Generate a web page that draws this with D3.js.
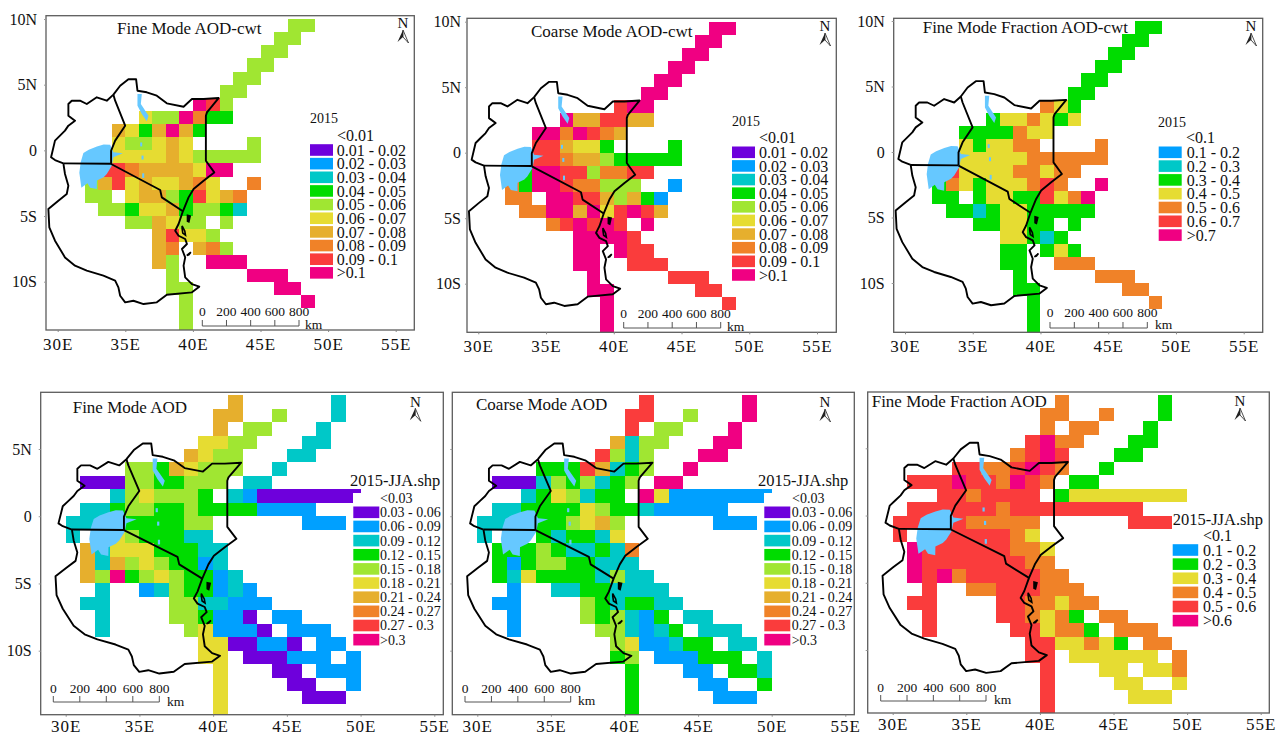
<!DOCTYPE html>
<html>
<head>
<meta charset="utf-8">
<script src="https://cdn.jsdelivr.net/npm/d3@7"></script>
<style>
  html, body { margin: 0; background: #fff; }
  text { font-family: "Liberation Serif", "Times New Roman", serif; fill: #111; }
</style>
</head>
<body>
<div id="chart"></div>
<script>
// one row = [top latitude of the cell, lon of the first cell, class code per degree east]
const fineCwt = [
  [10,47,"ll"],[9,46,"ll"],[8,45,"ll"],[7,44,"ll"],[6,43,"ll"],[5,42,"ll"],
  [4,40,"mrl"],[3,36,"yllmogg"],[2,34,"dygdmdg"],[1,34,"yllydy....l"],[0,34,"yyyydylllll"],
  [-1,33,"rroddddymm"],[-2,32,"ldrydyydoy..o"],[-3,32,"ll.yddlgrydo"],[-4,33,"llgyydgllgt"],
  [-5,35,"lldyll.l"],[-6,37,"dryyl"],[-7,37,"do.dol"],[-8,37,"dl..mmm"],[-9,38,"l.....mmm"],
  [-10,38,"ll......mm"],[-11,39,"l........m"],[-12,39,"l"],[-13,39,"l"]
];
const coarseCwt = [
  [10,47,"mm"],[9,46,"mm"],[8,45,"mm"],[7,44,"mm"],[6,43,"mm"],[5,42,"mm"],
  [4,40,"rmm"],[3,36,"mddrrdd"],[2,34,"mmomrod"],[1,34,"rrdyyg....g"],[0,34,"rroddlggggg"],
  [-1,33,"gmmrrloorr"],[-2,32,"ogmmroolll..b"],[-3,32,"oo.mmrrdldgb"],[-4,33,"oommdmyrmrd"],
  [-5,35,"ormrmr.m"],[-6,37,"mmmmr"],[-7,37,"mm.mrr"],[-8,37,"mm..rrr"],[-9,38,"m.....rrr"],
  [-10,38,"mm......rr"],[-11,39,"m........r"],[-12,39,"m"],[-13,39,"m"]
];
const fractionCwt = [
  [10,47,"gg"],[9,46,"gg"],[8,45,"gg"],[7,44,"gg"],[6,43,"gg"],[5,42,"gg"],
  [4,40,"oyg"],[3,36,"gyyoygy"],[2,34,"ggggoyy"],[1,34,"ygyyoo....o"],[0,34,"yyyyyoooooo"],
  [-1,33,"ryyyyooyoo"],[-2,32,"goygyyyoro..m"],[-3,32,"gg.gyyggryom"],[-4,33,"ggtgyyggggg"],
  [-5,35,"ggyygg.g"],[-6,37,"yygtg"],[-7,37,"gg.gyg"],[-8,37,"gg..ooo"],[-9,38,"g.....ooo"],
  [-10,38,"gg......oo"],[-11,39,"g........o"],[-12,39,"g"],[-13,39,"g"]
];
const fineJja = [
  [9,41,"d......t"],[8,40,"dd..l...t"],[7,40,"d.ll...t"],[6,39,"yyll...tt"],[5,38,"dyll...tt"],
  [4,34,"llgdylll..t"],[3,31,"pppllgglll.tt"],[2,33,"tlylllg.tbppppppp"],[1,31,"ttgllgglggggbbbb"],
  [0,30,"ttttggggll......bbb"],[-1,30,"t..ylgggtt"],[-2,31,"dtyyygggtt"],[-3,31,"dtdlylggbt"],
  [-4,31,"dlmglylggbt"],[-5,32,"t..btlggbtb"],[-6,31,"tt....llttbbb"],[-7,32,"t....llgbbp.bb"],
  [-8,32,"t.....lybbbp.bbb"],[-9,39,"yyppbbp.bb"],[-10,39,"yy.pppbbb.b"],[-11,40,"y...pp.bbb"],
  [-12,40,"y....pp..b"],[-13,40,"y.....ppp"],[-14,40,"y"]
];
const coarseJja = [
  [9,41,"r......m"],[8,40,"rr..l...m"],[7,40,"r.ll...m"],[6,39,"dtll...mm"],[5,38,"rltl...mm"],
  [4,34,"gggrdtgl..m"],[3,31,"ppptlgltgl.mm"],[2,33,"tgyltgg.mybbbbbbb"],[1,31,"ttggggylggtbbbbb"],
  [0,30,"ttttgglydl......bbb"],[-1,30,"t...gtggty"],[-2,31,"ggglgttgto"],[-3,31,"gbgllggttt"],
  [-4,31,"gtyggggtltt"],[-5,32,"b..ttggtttt"],[-6,31,"bb....lgtggtt"],[-7,32,"b....lgltbg.tt"],
  [-8,32,"b.....lltbtg.ttt"],[-9,39,"lybbtgg.tt"],[-10,39,"gl.bbbggg.t"],[-11,40,"g...bb.ggt"],
  [-12,40,"g....bb..g"],[-13,40,"g.....bbb"],[-14,40,"g"]
];
const fractionJja = [
  [9,41,"o......g"],[8,40,"oo..o...g"],[7,40,"o.oo...g"],[6,39,"rmoo...gg"],[5,38,"ormr...gg"],
  [4,34,"rroormro..g"],[3,31,"rrrmrromro.gg"],[2,33,"rrorrrr.gyyyyyyyy"],[1,31,"rrrrrrorrrrrrrrr"],
  [0,30,"rrrrrooooo......rrr"],[-1,30,"r.rrrrrroy"],[-2,31,"mrrrrrrooy"],[-3,31,"mrrrrrrroo"],
  [-4,31,"mrmorrrrroo"],[-5,32,"r..oorrrooo"],[-6,31,"rr....rrooyoo"],[-7,32,"r....rroyog.oo"],
  [-8,32,"r.....rryoog.ooo"],[-9,39,"rryyoyg.oo"],[-10,39,"rr.yyyyyy.o"],[-11,40,"r...yy.yyo"],
  [-12,40,"r....yy..y"],[-13,40,"r.....yyy"],[-14,40,"r"]
];

const classCodes = ["p","b","t","g","l","y","d","o","r","m"];
const classColors = ["#6e00dc","#00a0ff","#00c8c8","#00dc00","#a0e632","#e6dc32","#e6af2d","#f08228","#fa3c3c","#f00082"];
const color = d3.scaleOrdinal().domain(classCodes).range(classColors);

const cwtLabels = ["0.01 - 0.02","0.02 - 0.03","0.03 - 0.04","0.04 - 0.05","0.05 - 0.06","0.06 - 0.07","0.07 - 0.08","0.08 - 0.09","0.09 - 0.1",">0.1"];
const cwtFracLabels = ["0.1 - 0.2","0.2 - 0.3","0.3 - 0.4","0.4 - 0.5","0.5 - 0.6","0.6 - 0.7",">0.7"];
const cwtFracCodes = ["b","t","g","y","o","r","m"];
const jjaLabels = ["0.03 - 0.06","0.06 - 0.09","0.09 - 0.12","0.12 - 0.15","0.15 - 0.18","0.18 - 0.21","0.21 - 0.24","0.24 - 0.27","0.27 - 0.3",">0.3"];
const jjaFracLabels = ["0.1 - 0.2","0.2 - 0.3","0.3 - 0.4","0.4 - 0.5","0.5 - 0.6",">0.6"];
const jjaFracCodes = ["b","g","y","o","r","m"];

const lonTicks = [30,35,40,45,50,55];
const latTicks = [10,5,0,-5,-10];
const scaleKm = [0,200,400,600,800];

// outlines, [lon, lat]
const outerOutline = [[30.42,-0.99],[29.8,-0.74],[29.51,-0.53],[29.8,0.74],[30.17,1.12],[30.54,1.5],[30.79,1.88],[31.28,2.26],[30.79,2.64],[30.79,3.53],[31.04,3.78],[31.65,3.78],[32.15,3.53],[32.89,4.04],[33.63,3.78],[34.12,4.24],[34.62,4.92],[35.23,5.41],[35.8,5.41],[35.9,4.54],[36.59,4.42],[37.33,4.16],[38.07,3.58],[39.31,3.32],[39.93,3.91],[40.79,3.91],[41.9,3.98],[41.04,2.89],[40.96,2.64],[40.96,-0.79],[41.58,-1.68],[40.79,-2.31],[40.05,-2.94],[39.68,-3.58],[39.26,-4.64],[38.94,-5.61],[38.69,-6.12],[38.94,-6.5],[39.43,-6.75],[39.56,-7.13],[39.19,-7.51],[39.43,-8.15],[39.31,-8.78],[39.43,-9.67],[39.93,-10.18],[40.47,-10.38],[39.93,-10.81],[38.07,-10.99],[37.33,-11.57],[36.35,-11.7],[35.6,-11.45],[34.99,-11.57],[34.62,-11.07],[34.49,-10.43],[34.25,-9.92],[33.38,-9.54],[32.15,-9.16],[31.28,-8.78],[30.54,-8.15],[29.8,-6.88],[29.38,-5.86],[29.31,-4.47],[30.05,-3.83],[30.67,-3.32],[30.79,-2.69],[30.54,-1.8],[30.42,-0.99]];
const kenyaTanzaniaBorder = [[33.95,-1.04],[37.58,-3.02],[37.7,-3.58],[39.26,-4.64]];
const ugandaTanzaniaBorder = [[30.42,-0.99],[33.95,-1.02]];
const ugandaKenyaBorder = [[34.12,4.24],[34.25,3.78],[34.99,1.88],[34.25,0.74],[33.95,-0.03],[33.95,-1.04]];
const pembaIsland = [[39.6,-4.95],[39.8,-5.0],[39.7,-5.45],[39.6,-5.4]];
const zanzibarIsland = [[39.2,-5.75],[39.4,-6.15],[39.45,-6.45],[39.25,-6.3],[39.2,-5.95]];
const mafiaIsland = [[39.55,-8.0],[39.85,-7.75],[39.7,-7.95]];
const lakeVictoria = [[33.88,0.43],[33.4,0.45],[32.9,0.3],[32.3,0.05],[31.9,-0.2],[31.7,-0.9],[31.6,-1.7],[31.75,-2.85],[32.2,-2.5],[32.4,-2.85],[32.89,-2.95],[32.9,-2.3],[33.4,-2.05],[33.63,-1.8],[34,-1.17],[34.12,-0.53],[34.81,-0.23],[34.12,-0.15]];
const lakeTurkana = [[35.9,4.29],[36.22,4.29],[36.15,3.53],[36.72,2.64],[36.59,2.21],[36.22,2.77],[35.9,3.4]];
const riftLakeA = [[36.1,0.6],[36.25,0.6],[36.25,0.3],[36.1,0.3]];
const riftLakeB = [[36.2,-0.4],[36.35,-0.4],[36.35,-0.7],[36.2,-0.7]];
const riftLakeC = [[36.25,-1.75],[36.4,-1.75],[36.4,-2.1],[36.25,-2.1]];

const panels = [
  { rows: fineCwt, title: "Fine Mode AOD-cwt", tx: 117, ty: 28, frame: [46,414.3,15.7,330], lon: [57.7,395.7], lat: [10,19,-10,281.7], ticks: latTicks, tickLabels: true, ypad: 7, xpad: 6,
    name: "2015", nx: 310, ny: 118, first: "<0.01", fx: 337, fy: 135, labels: cwtLabels, codes: classCodes, sx: 310, sw: 23, lx: 336.7, ly: 150, pitch: 13.65, fs: 16, nfs: 14,
    bar: [202.3,299,326,311.7,305,324], north: [403,23] },
  { rows: coarseCwt, title: "Coarse Mode AOD-cwt", tx: 531, ty: 30.7, frame: [467,836.3,18.3,332.3], lon: [478.3,817], lat: [10,21.7,-10,283.7], ticks: latTicks, tickLabels: true, ypad: 4, xpad: 6,
    name: "2015", nx: 732, ny: 120.7, first: "<0.01", fx: 759, fy: 137.7, labels: cwtLabels, codes: classCodes, sx: 732, sw: 23, lx: 759, ly: 152.3, pitch: 13.63, fs: 16, nfs: 14,
    bar: [623.7,720.7,328,313.3,727,326], north: [825,26] },
  { rows: fractionCwt, title: "Fine Mode Fraction AOD-cwt", tx: 922.7, ty: 26.7, frame: [893.7,1262.7,18.3,332.3], lon: [905,1243.7], lat: [10,21,-10,283], ticks: latTicks, tickLabels: true, ypad: 7, xpad: 6,
    name: "2015", nx: 1158, ny: 122, first: "<0.1", fx: 1186, fy: 137.3, labels: cwtFracLabels, codes: cwtFracCodes, sx: 1158.7, sw: 23, lx: 1186.7, ly: 152.3, pitch: 13.8, fs: 16, nfs: 14,
    bar: [1050,1147.3,328,312.7,1155,324], north: [1251,26] },
  { rows: fineJja, title: "Fine Mode AOD", tx: 72.7, ty: 406.7, frame: [40.7,443.3,392.3,714.7], lon: [65.7,434.3], lat: [5,449,-10,650.7], ticks: [5,0,-5,-10], tickLabels: true, ypad: 7, xpad: 3,
    name: "2015-JJA.shp", nx: 350, ny: 480.3, first: "<0.03", fx: 380, fy: 498, labels: jjaLabels, codes: classCodes, sx: 353.3, sw: 26, lx: 380, ly: 512.3, pitch: 14.15, fs: 14, nfs: 16.5,
    bar: [53.3,159.3,702,688,167,701], north: [415.3,401.3], mask: [353,493,88,153] },
  { rows: coarseJja, title: "Coarse Mode AOD", tx: 476, ty: 404, frame: [452.3,854.3,392.3,714.7], lon: [477.3,845.3], lat: [5,449,-10,650.7], ticks: [5,0,-5,-10], tickLabels: false, ypad: 7, xpad: 3,
    name: "2015-JJA.shp", nx: 758, ny: 480, first: "<0.03", fx: 792, fy: 498, labels: jjaLabels, codes: classCodes, sx: 764.3, sw: 26, lx: 791.7, ly: 512.3, pitch: 14.15, fs: 14, nfs: 16.5,
    bar: [465,570.7,702,688,578,700], north: [825,402], mask: [764,493,88,153] },
  { rows: fractionJja, title: "Fine Mode Fraction AOD", tx: 871.7, ty: 401, frame: [867.7,1269.3,392,713], lon: [892.7,1260.7], lat: [5,448.3,-10,650], ticks: [5,0,-5,-10], tickLabels: false, ypad: 7, xpad: 3,
    name: "2015-JJA.shp", nx: 1172.7, ny: 519, first: "<0.1", fx: 1203, fy: 535, labels: jjaFracLabels, codes: jjaFracCodes, sx: 1172.7, sw: 25.5, lx: 1203, ly: 550, pitch: 14.13, fs: 16, nfs: 16.5,
    bar: [880.7,986,701,687,994,699], north: [1240,401] }
];

const svg = d3.select("#chart").append("svg")
  .attr("width", 1280)
  .attr("height", 736)
  .style("display", "block");

panels.forEach((p, i) => {
  const [left, right, top, bottom] = p.frame;
  const x = d3.scaleLinear().domain([30, 55]).range(p.lon);
  const y = d3.scaleLinear().domain([p.lat[0], p.lat[2]]).range([p.lat[1], p.lat[3]]);
  const g = svg.append("g");

  svg.append("clipPath").attr("id", `clip${i}`)
    .append("rect")
    .attr("x", left).attr("y", top)
    .attr("width", right - left).attr("height", bottom - top);

  // grid cells
  const cells = p.rows.flatMap(([lat, lon, codes]) =>
    Array.from(codes, (c, k) => ({ lat: lat, lon: lon + k, c: c })).filter(d => d.c !== "."));

  g.append("g")
    .attr("clip-path", `url(#clip${i})`)
    .attr("shape-rendering", "crispEdges")
    .selectAll("rect")
    .data(cells)
    .enter()
    .append("rect")
    .attr("x", d => x(d.lon))
    .attr("y", d => y(d.lat))
    .attr("width", d => x(d.lon + 1) - x(d.lon))
    .attr("height", d => y(d.lat - 1) - y(d.lat))
    .attr("fill", d => color(d.c));

  const line = d3.line().x(d => x(d[0])).y(d => y(d[1]));

  g.selectAll(".lake")
    .data([lakeVictoria, lakeTurkana, riftLakeA, riftLakeB, riftLakeC])
    .enter()
    .append("path")
    .attr("class", "lake")
    .attr("d", d => line(d) + "Z")
    .attr("fill", "#66c8ff");

  g.selectAll(".border")
    .data([outerOutline, kenyaTanzaniaBorder, ugandaTanzaniaBorder, ugandaKenyaBorder])
    .enter()
    .append("path")
    .attr("class", "border")
    .attr("d", line)
    .attr("fill", "none")
    .attr("stroke", "#000")
    .attr("stroke-width", 1.9)
    .attr("stroke-linejoin", "round");

  g.selectAll(".island")
    .data([pembaIsland, zanzibarIsland, mafiaIsland])
    .enter()
    .append("path")
    .attr("class", "island")
    .attr("d", d => line(d) + "Z")
    .attr("fill", (d, k) => k === 0 ? "#000" : "none")
    .attr("stroke", "#000")
    .attr("stroke-width", 1.6);

  g.append("rect")
    .attr("x", left).attr("y", top)
    .attr("width", right - left).attr("height", bottom - top)
    .attr("fill", "none")
    .attr("stroke", "#5c5c5c")
    .attr("stroke-width", 1.3);

  // axes
  const xAxis = g.append("g")
    .attr("transform", `translate(0, ${bottom})`)
    .call(d3.axisBottom(x).tickValues(lonTicks).tickSize(2).tickPadding(p.xpad).tickFormat(d => d + "E"));
  xAxis.select(".domain").remove();
  xAxis.selectAll("line").attr("stroke", "#888");
  xAxis.selectAll("text").style("font-size", "17px").style("letter-spacing", "1px").attr("fill", "#111");

  const yAxis = g.append("g")
    .attr("transform", `translate(${left}, 0)`)
    .call(d3.axisLeft(y).tickValues(p.ticks).tickSize(2).tickPadding(p.ypad)
      .tickFormat(d => !p.tickLabels ? "" : d === 0 ? "0" : d > 0 ? d + "N" : (-d) + "S"));
  yAxis.select(".domain").remove();
  yAxis.selectAll("line").attr("stroke", "#999");
  yAxis.selectAll("text").style("font-size", "16px").attr("fill", "#111");

  // title
  g.append("text")
    .attr("x", p.tx).attr("y", p.ty)
    .attr("dy", "0.35em")
    .style("font-size", "17px")
    .text(p.title);

  // legend
  if (p.mask) {
    g.append("rect")
      .attr("x", p.mask[0]).attr("y", p.mask[1])
      .attr("width", p.mask[2]).attr("height", p.mask[3])
      .attr("fill", "#fff");
  }
  g.append("text")
    .attr("x", p.nx).attr("y", p.ny).attr("dy", "0.35em")
    .style("font-size", p.nfs + "px")
    .text(p.name);
  g.append("text")
    .attr("x", p.fx).attr("y", p.fy).attr("dy", "0.35em")
    .style("font-size", p.fs + "px")
    .text(p.first);

  const legendItem = g.selectAll(".legend-item")
    .data(p.labels)
    .enter()
    .append("g")
    .attr("class", "legend-item")
    .attr("transform", (d, k) => `translate(0, ${p.ly + k * p.pitch})`);

  legendItem.append("rect")
    .attr("x", p.sx).attr("y", -5.8)
    .attr("width", p.sw).attr("height", 11.6)
    .attr("fill", (d, k) => color(p.codes[k]));

  legendItem.append("text")
    .attr("x", p.lx).attr("dy", "0.35em")
    .style("font-size", p.fs + "px")
    .text(d => d);

  // scale bar
  const [barLeft, barRight, barY, barTextY, kmX, kmY] = p.bar;
  const km = d3.scaleLinear().domain([0, 800]).range([barLeft, barRight]);
  g.append("line")
    .attr("x1", km(0)).attr("x2", km(800))
    .attr("y1", barY).attr("y2", barY)
    .attr("stroke", "#555");
  g.selectAll(".km-tick")
    .data(scaleKm)
    .enter()
    .append("line")
    .attr("class", "km-tick")
    .attr("x1", d => km(d)).attr("x2", d => km(d))
    .attr("y1", barY).attr("y2", barY - 6)
    .attr("stroke", "#555");
  g.selectAll(".km-label")
    .data(scaleKm)
    .enter()
    .append("text")
    .attr("class", "km-label")
    .attr("x", d => km(d)).attr("y", barTextY)
    .attr("dy", "0.35em")
    .attr("text-anchor", "middle")
    .style("font-size", "13.5px")
    .text(d => d);
  g.append("text")
    .attr("x", kmX).attr("y", kmY).attr("dy", "0.35em")
    .style("font-size", "13.5px")
    .text("km");

  // north arrow
  const [nx, ny] = p.north;
  g.append("text")
    .attr("x", nx).attr("y", ny).attr("dy", "0.35em")
    .attr("text-anchor", "middle")
    .style("font-size", "15px")
    .text("N");
  g.append("path")
    .attr("d", d3.line()([[nx, ny + 7], [nx - 5.5, ny + 19], [nx, ny + 14]]) + "Z")
    .attr("fill", "#222");
  g.append("path")
    .attr("d", d3.line()([[nx, ny + 7], [nx + 5.5, ny + 20], [nx, ny + 14]]) + "Z")
    .attr("fill", "#fff")
    .attr("stroke", "#222")
    .attr("stroke-width", 0.8);
});
</script>
</body>
</html>
